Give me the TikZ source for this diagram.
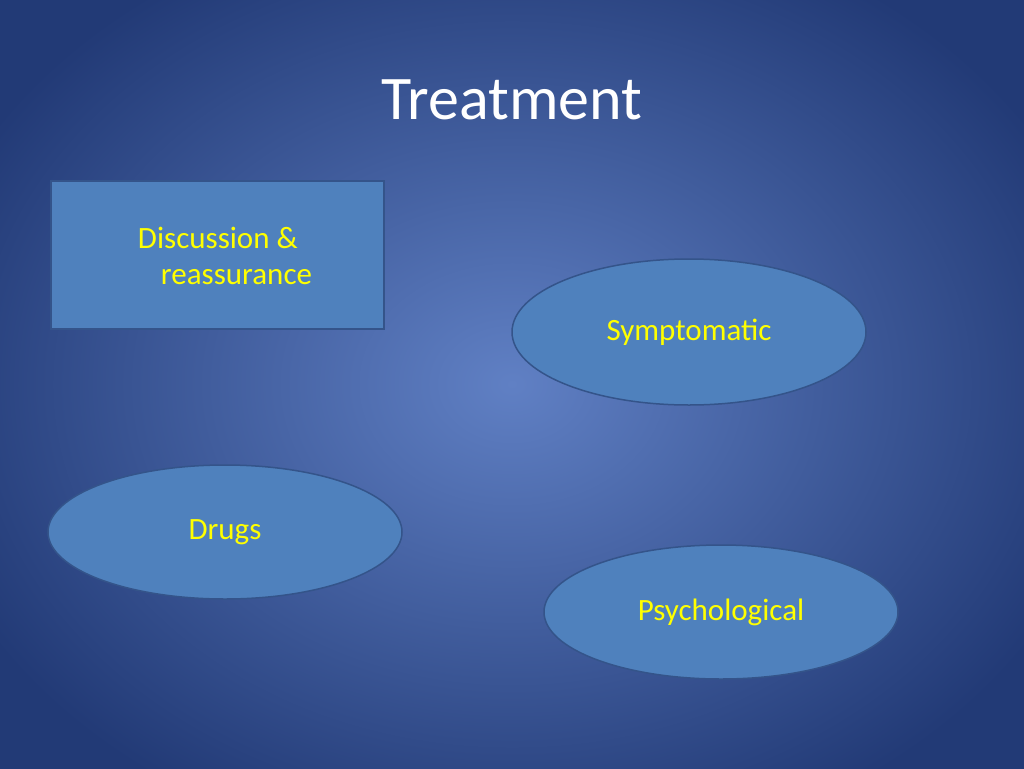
\documentclass[tikz,border=0pt]{standalone}
\usepackage{fontspec}
\setmainfont{Carlito}
\usetikzlibrary{shapes.geometric}
\definecolor{bgin}{RGB}{96,128,196}
\definecolor{bgout}{RGB}{34,58,118}
\definecolor{boxfill}{RGB}{79,129,189}
\definecolor{boxline}{RGB}{52,84,138}
\definecolor{txt}{RGB}{255,255,0}
\begin{document}
\begin{tikzpicture}[x=1pt,y=-1pt]
                \tikzstyle{topic}=[draw=boxline, line width=1.5pt, fill=boxfill, text=txt, font=\fontsize{31}{36}\selectfont]
                \tikzstyle{oval}=[topic, ellipse, minimum width=354pt, minimum height=146pt, inner sep=0pt]
                
                \useasboundingbox (0,0) rectangle (1024,768);
                \clip (0,0) rectangle (1024,768);
                \shade[inner color=bgin, outer color=bgout] (-100,-100) rectangle (1124,868);
                
                \node[text=white, font=\fontsize{62}{70}\selectfont] (title) at (512,100) {Treatment};
                \node[topic, minimum width=333pt, minimum height=148pt, anchor=north west] (disc) at (50,180) {};
                \node[text=txt, font=\fontsize{31}{36}\selectfont, align=left] (disctxt) at (225,256) {Discussion \&\\\hspace*{23pt}reassurance};
                \node[oval] (sym) at (689,332) {Symptomatic};
                \node[oval, minimum height=134pt] (drugs) at (225,532) {Drugs};
                \node[oval, minimum height=134pt] (psy) at (721,612) {Psychological};
            \end{tikzpicture}
\end{document}
